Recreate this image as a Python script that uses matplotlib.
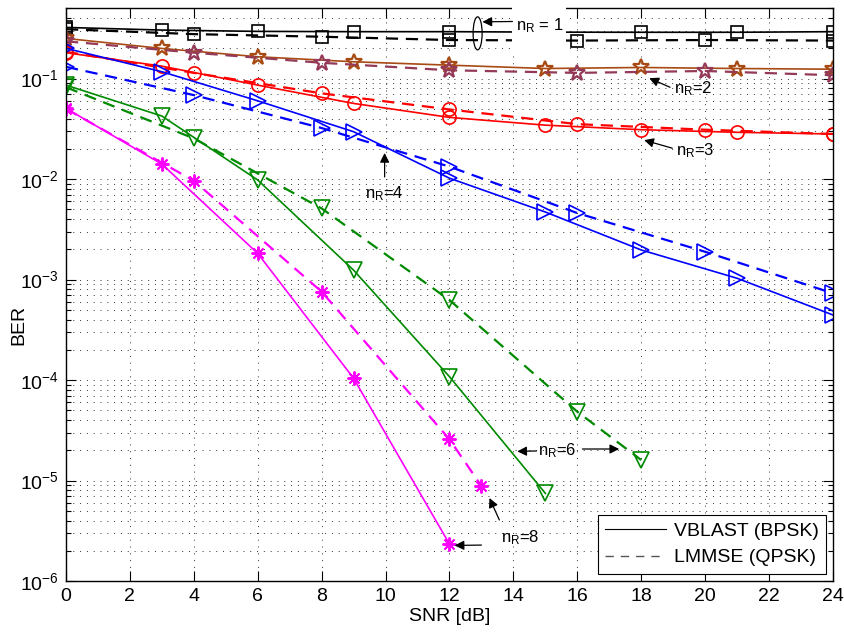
import matplotlib
matplotlib.use("Agg")
import matplotlib.pyplot as plt
import matplotlib.transforms as mtransforms
from matplotlib.patches import Ellipse, Rectangle
from matplotlib.lines import Line2D
from matplotlib.ticker import LogLocator, NullFormatter

plt.rcParams["font.family"] = ["Liberation Sans", "DejaVu Sans"]
plt.rcParams["mathtext.fontset"] = "custom"
plt.rcParams["mathtext.rm"] = "Liberation Sans"
plt.rcParams["mathtext.it"] = "Liberation Sans:italic"
plt.rcParams["mathtext.default"] = "regular"

# SNR grids: VBLAST curves every 3 dB, LMMSE curves every 4 dB
snr_v = [0, 3, 6, 9, 12, 15, 18, 21, 24]
snr_l = [0, 4, 8, 12, 16, 20, 24]

ber1_v = [0.323, 0.304, 0.295, 0.293, 0.293, 0.29, 0.289, 0.289, 0.293]
ber1_l = [0.31, 0.277, 0.261, 0.242, 0.239, 0.242, 0.239]
ber2_v = [0.251, 0.1995, 0.165, 0.147, 0.136, 0.126, 0.129, 0.126, 0.124]
ber2_l = [0.235, 0.181, 0.1436, 0.121, 0.114, 0.119, 0.108]
ber3_v = [0.181, 0.133, 0.0861, 0.0566, 0.0411, 0.0344, 0.031, 0.0292, 0.0281]
ber3_l = [0.185, 0.114, 0.0713, 0.0493, 0.0352, 0.031, 0.0281]
ber4_v = [0.2, 0.117, 0.0601, 0.0296, 0.0102, 0.0047, 0.00197, 0.00103, 0.000444]
ber4_l = [0.131, 0.0685, 0.0322, 0.0133, 0.00459, 0.00189, 0.00073]

snr6_v = [0, 3, 6, 9, 12, 15]
ber6_v = [0.0861, 0.0424, 0.00978, 0.00124, 0.000108, 7.46e-6]
snr6_l = [0, 4, 8, 12, 16, 18]
ber6_l = [0.082, 0.0254, 0.0051, 0.000625, 4.84e-5, 1.6e-5]

snr8_v = [0, 3, 6, 9, 12]
ber8_v = [0.0505, 0.0141, 0.00182, 0.000104, 2.33e-6]
snr8_l = [0, 4, 8, 12, 13]
ber8_l = [0.05, 0.00962, 0.000757, 2.57e-5, 8.81e-6]

green = "#008a00"
dash = (0, (5.5, 3.5))

fig = plt.figure(figsize=(8.45, 6.33), dpi=100)
ax = fig.add_axes([0.0781, 0.0821, 0.9077, 0.9047])


def curve(x, y, color, marker, ms, ls, lw, mew=1.2):
    ax.plot(x, y, color=color, linestyle=ls, linewidth=lw, marker=marker,
            markersize=ms, markerfacecolor="none", markeredgecolor=color,
            markeredgewidth=mew)


curve(snr_v, ber1_v, "k", "s", 8.5, "-", 1.2)
curve(snr_l, ber1_l, "k", "s", 8.5, dash, 1.6)
curve(snr_v, ber2_v, "#a84a14", "*", 12, "-", 1.2, 1.6)
curve(snr_l, ber2_l, "#943a58", "*", 12, dash, 1.6, 1.6)
curve(snr_v, ber3_v, "#ff0000", "o", 9.5, "-", 1.2)
curve(snr_l, ber3_l, "#ff0000", "o", 9.5, dash, 1.6)
curve(snr_v, ber4_v, "#0000ff", ">", 11, "-", 1.2)
curve(snr_l, ber4_l, "#0000ff", ">", 11, dash, 1.6)
curve(snr6_v, ber6_v, green, "v", 11, "-", 1.2)
curve(snr6_l, ber6_l, green, "v", 11, dash, 1.6)
curve(snr8_v, ber8_v, "#ff00ff", (8, 2, 0), 10, "-", 1.2, 1.4)
curve(snr8_l, ber8_l, "#ff00ff", (8, 2, 0), 10, dash, 1.6, 1.4)

ax.set_yscale("log")
ax.set_xlim(0, 24)
ax.set_ylim(1e-6, 0.5)
ax.set_xticks(range(0, 25, 2))
ax.yaxis.set_major_locator(LogLocator(base=10, numticks=10))
ax.yaxis.set_minor_locator(LogLocator(base=10, subs=range(2, 10), numticks=20))
ax.yaxis.set_minor_formatter(NullFormatter())

ax.tick_params(which="both", direction="in", top=True, right=True,
               labelsize=14, width=0.8)
ax.tick_params(which="major", length=7, pad=5)
ax.tick_params(which="minor", length=3.5)
for sp in ax.spines.values():
    sp.set_linewidth(1.0)

grid_kw = dict(color="#333333", linestyle=(0, (1, 6)), linewidth=0.7)
ax.grid(True, which="both", axis="y", **grid_kw)
ax.grid(True, which="major", axis="x", **grid_kw)
ax.set_axisbelow(True)

ax.set_xlabel("SNR [dB]", fontsize=14, labelpad=2)
ax.set_ylabel("BER", fontsize=14)
ax.yaxis.set_label_coords(-0.05, 0.447)

# white box behind the n_R = 1 label, it cuts the black lines and the frame
ax.add_patch(Rectangle((13.97, 0.19), 1.66, 0.5, facecolor="white",
                       edgecolor="none", zorder=4, clip_on=False))
ell_tr = fig.dpi_scale_trans + mtransforms.ScaledTranslation(12.88, 0.282, ax.transData)
ax.add_patch(Ellipse((0, 0), 0.09, 0.33, transform=ell_tr, facecolor="none",
                     edgecolor="k", linewidth=0.9, zorder=5, clip_on=False))

arrow = dict(arrowstyle="-|>", color="k", lw=0.9, mutation_scale=14,
             shrinkA=0, shrinkB=0)
txt = dict(fontsize=12, zorder=6)


def pointer(tail, tip):
    ax.annotate("", xy=tip, xytext=tail, arrowprops=arrow, zorder=6)


ax.text(14.08, 0.34, "$n_R$ = 1", va="center", ha="left", **txt)
pointer((13.97, 0.37), (13.03, 0.367))

ax.text(19.03, 0.0803, "$n_R$=2", va="center", ha="left", **txt)
pointer((18.9, 0.082), (18.25, 0.101))

ax.text(19.1, 0.019, "$n_R$=3", va="center", ha="left", **txt)
pointer((18.97, 0.0203), (18.09, 0.0244))

ax.text(9.97, 0.0072, "$n_R$=4", va="center", ha="center", **txt)
pointer((9.97, 0.0105), (9.97, 0.0182))

ax.text(15.38, 1.97e-5, "$n_R$=6", va="center", ha="center", **txt)
pointer((14.72, 1.97e-5), (14.12, 1.95e-5))
pointer((16.16, 2.06e-5), (17.31, 2.06e-5))

ax.text(13.6, 2.68e-6, "$n_R$=8", va="center", ha="left", **txt)
pointer((13.0, 2.28e-6), (12.16, 2.26e-6))
pointer((13.56, 4.05e-6), (13.25, 6.7e-6))

handles = [Line2D([], [], color="k", lw=0.8, linestyle="-"),
           Line2D([], [], color="#555555", lw=1.0, linestyle=(0, (6, 5)))]
leg = ax.legend(handles, ["VBLAST (BPSK)", "LMMSE (QPSK)"], loc="lower right",
                fontsize=14, fancybox=False, framealpha=1, edgecolor="k",
                handlelength=3.1, handletextpad=0.4, labelspacing=0.45,
                borderpad=0.4, borderaxespad=0.35)
leg.get_frame().set_linewidth(0.8)
leg.set_zorder(7)

fig.savefig("out.png", dpi=100)
